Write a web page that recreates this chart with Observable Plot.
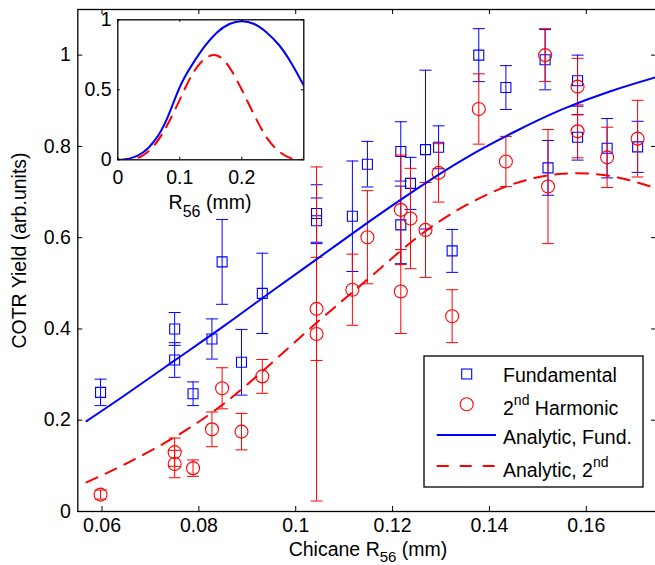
<!DOCTYPE html>
<html><head><meta charset="utf-8">
<script src="https://cdn.jsdelivr.net/npm/d3@7"></script>
<script src="https://cdn.jsdelivr.net/npm/@observablehq/plot@0.6"></script>
<style>
html,body{margin:0;padding:0;overflow:hidden;background:#fff;}
#wrap{position:relative;width:660px;height:565px;}
#wrap svg{position:absolute;left:0;top:0;}
</style></head><body><div id="wrap"></div>
<script>
// ---- data ----
const r56 = [0.0597,0.0750,0.0750,0.0788,0.0827,0.0848,0.0888,0.0931,0.1043,0.1043,0.1117,0.1148,0.1217,0.1217,0.1237,0.1268,0.1295,0.1323,0.1378,0.1434,0.1515,0.1521,0.1582,0.1582,0.1643,0.1706];
const fundY = [0.261,0.400,0.332,0.258,0.378,0.547,0.327,0.478,0.653,0.637,0.647,0.761,0.789,0.628,0.719,0.793,0.798,0.571,1.000,0.929,0.990,0.753,0.944,0.820,0.796,0.799];
const fundErr = [0.029,0.036,0.038,0.026,0.044,0.093,0.072,0.088,0.063,0.050,0.121,0.050,0.065,0.085,0.057,0.174,0.047,0.047,0.058,0.048,0.066,0.060,0.056,0.050,0.065,0.056];
const harmY = [0.037,0.130,0.104,0.095,0.180,0.270,0.175,0.296,0.444,0.389,0.486,0.601,0.661,0.482,0.642,0.617,0.742,0.428,0.882,0.767,1.000,0.712,0.931,0.833,0.776,0.817];
const harmErr = [0.010,0.031,0.030,0.018,0.038,0.045,0.040,0.037,0.113,0.366,0.078,0.102,0.120,0.092,0.110,0.104,0.064,0.058,0.077,0.055,0.058,0.125,0.062,0.058,0.066,0.084];

const fitX = [0.0568,0.065,0.075,0.085,0.095,0.105,0.115,0.125,0.135,0.145,0.155,0.165,0.1745];
const fitFund = [0.198,0.257,0.331,0.405,0.482,0.558,0.634,0.707,0.774,0.831,0.881,0.921,0.952];
const fitHarm = [0.064,0.105,0.163,0.235,0.325,0.420,0.510,0.600,0.670,0.718,0.740,0.735,0.708];

const insetX = [0,0.02,0.04,0.06,0.08,0.10,0.12,0.14,0.16,0.18,0.20,0.22,0.24,0.26,0.28,0.30];
const insetFund = [0,0.01,0.05,0.14,0.30,0.52,0.68,0.81,0.91,0.97,0.99,0.97,0.91,0.82,0.69,0.53];
const insetHarm = [0,0.0,0.03,0.11,0.25,0.43,0.61,0.72,0.745,0.66,0.50,0.32,0.16,0.06,0.01,0];

const xTicks = [0.06,0.08,0.1,0.12,0.14,0.16];
const yTicks = [0,0.2,0.4,0.6,0.8,1];
const insetXTicks = [0,0.1,0.2];
const insetYTicks = [0,0.5,1];

// ---- styling ----
const BLUE = "#0000ff", RED = "#ff0000";
const FONT = "'Liberation Sans', Arial, Helvetica, sans-serif";
const FS = 19.5;

const pts = r56.map((x,i)=>({x, fy: fundY[i], fe: fundErr[i], hy: harmY[i], he: harmErr[i]}));
const fit = fitX.map((x,i)=>({x, f: fitFund[i], h: fitHarm[i]}));
const ins = insetX.map((x,i)=>({x, f: insetFund[i], h: insetHarm[i]}));

const capSymbol = {draw(ctx, size){ const w = Math.sqrt(size/Math.PI); ctx.moveTo(-w,0); ctx.lineTo(w,0); }};

const W = 660, H = 565, mL = 77.3, mR = 4, mT = 9, mB = 54;
const plotW = W - mL - mR, plotH = H - mT - mB;
const TL = 5;

const main = Plot.plot({
  width: W, height: H, marginLeft: mL, marginRight: mR, marginTop: mT, marginBottom: mB,
  x: {domain: [0.055, 0.1745]},
  y: {domain: [0, 1.1]},
  style: {fontFamily: FONT, fontSize: FS + "px", background: "transparent", overflow: "visible", color: "black"},
  marks: [
    // fundamental
    Plot.ruleX(pts, {x: "x", y1: d=>d.fy-d.fe, y2: d=>d.fy+d.fe, stroke: BLUE, strokeWidth: 1}),
    Plot.dot(pts, {x: "x", y: d=>d.fy+d.fe, symbol: capSymbol, r: 6, stroke: BLUE, fill: "none", strokeWidth: 1}),
    Plot.dot(pts, {x: "x", y: d=>d.fy-d.fe, symbol: capSymbol, r: 6, stroke: BLUE, fill: "none", strokeWidth: 1}),
    Plot.dot(pts, {x: "x", y: "fy", symbol: "square", r: 5.64, stroke: BLUE, fill: "none", strokeWidth: 1.1}),
    // harmonic
    Plot.ruleX(pts, {x: "x", y1: d=>d.hy-d.he, y2: d=>d.hy+d.he, stroke: RED, strokeWidth: 1}),
    Plot.dot(pts, {x: "x", y: d=>d.hy+d.he, symbol: capSymbol, r: 6, stroke: RED, fill: "none", strokeWidth: 1}),
    Plot.dot(pts, {x: "x", y: d=>d.hy-d.he, symbol: capSymbol, r: 6, stroke: RED, fill: "none", strokeWidth: 1}),
    Plot.dot(pts, {x: "x", y: "hy", symbol: "circle", r: 6.5, stroke: RED, fill: "none", strokeWidth: 1.1}),
    // analytic
    Plot.line(fit, {x: "x", y: "f", stroke: BLUE, strokeWidth: 2, curve: "natural", clip: true}),
    Plot.line(fit, {x: "x", y: "h", stroke: RED, strokeWidth: 2, curve: "natural", strokeDasharray: "12,9", clip: true}),
    // inward ticks
    Plot.ruleX(xTicks, {x: d=>d, insetTop: plotH - TL, stroke: "black", strokeWidth: 1}),
    Plot.ruleX(xTicks, {x: d=>d, insetBottom: plotH - TL, stroke: "black", strokeWidth: 1}),
    Plot.ruleY(yTicks, {y: d=>d, insetRight: plotW - TL, stroke: "black", strokeWidth: 1}),
    Plot.ruleY(yTicks, {y: d=>d, insetLeft: plotW - TL, stroke: "black", strokeWidth: 1}),
    Plot.axisX({ticks: xTicks, tickSize: 0, tickPadding: 7, tickFormat: d=>String(d), label: null}),
    Plot.axisY({ticks: yTicks, tickSize: 0, tickPadding: 7, tickFormat: d=>String(d), label: null}),
    Plot.frame({stroke: "black", strokeWidth: 1.3})
  ]
});

const IW = 240, IH = 225, iL = 37.3, iR = 16.7, iT = 19.3, iB = 65.7;
const ipW = IW - iL - iR, ipH = IH - iT - iB, ITL = 2.5;
const inset = Plot.plot({
  width: IW, height: IH, marginLeft: iL, marginRight: iR, marginTop: iT, marginBottom: iB,
  x: {domain: [0, 0.3]},
  y: {domain: [0, 1]},
  style: {fontFamily: FONT, fontSize: FS + "px", background: "transparent", overflow: "visible", color: "black"},
  marks: [
    Plot.frame({fill: "white", stroke: null}),
    Plot.line(ins, {x: "x", y: "f", stroke: BLUE, strokeWidth: 2, curve: "natural", clip: true}),
    Plot.line(ins, {x: "x", y: "h", stroke: RED, strokeWidth: 2, curve: "natural", strokeDasharray: "12,9", clip: true}),
    Plot.ruleX(insetXTicks, {x: d=>d, insetTop: ipH - ITL, stroke: "black", strokeWidth: 1}),
    Plot.ruleX(insetXTicks, {x: d=>d, insetBottom: ipH - ITL, stroke: "black", strokeWidth: 1}),
    Plot.ruleY(insetYTicks, {y: d=>d, insetRight: ipW - ITL, stroke: "black", strokeWidth: 1}),
    Plot.ruleY(insetYTicks, {y: d=>d, insetLeft: ipW - ITL, stroke: "black", strokeWidth: 1}),
    Plot.axisX({ticks: insetXTicks, tickSize: 0, tickPadding: 10, tickFormat: d=>String(d), label: null}),
    Plot.axisY({ticks: insetYTicks, tickSize: 0, tickPadding: 6.3, tickFormat: d=>String(d), label: null}),
    Plot.frame({stroke: "black", strokeWidth: 1.3})
  ]
});

const wrap = document.getElementById("wrap");
wrap.appendChild(main);
inset.style.left = "80px"; inset.style.top = "0px";
wrap.appendChild(inset);

// ---- labels & legend ----
const s = d3.select(main);
const txt = (sel) => sel.attr("font-family", FONT).attr("font-size", FS).attr("fill", "black");

const xl = s.append("text").call(txt).attr("x", 368).attr("y", 555.5).attr("text-anchor", "middle");
xl.append("tspan").text("Chicane R");
xl.append("tspan").attr("dy", 6).attr("font-size", 15).text("56");
xl.append("tspan").attr("dy", -6).text(" (mm)");

s.append("text").call(txt).attr("text-anchor", "middle")
  .attr("transform", "translate(25.5,250.5) rotate(-90)").text("COTR Yield (arb.units)");

const si = d3.select(inset);
const il = si.append("text").call(txt).attr("x", 130).attr("y", 209).attr("text-anchor", "middle");
il.append("tspan").text("R");
il.append("tspan").attr("dy", 8).attr("font-size", 16).text("56");
il.append("tspan").attr("dy", -8).text(" (mm)");

const lg = s.append("g").attr("text-anchor", "start");
lg.append("rect").attr("x", 424).attr("y", 356).attr("width", 219).attr("height", 131)
  .attr("fill", "white").attr("stroke", "black").attr("stroke-width", 1.3);
lg.append("rect").attr("x", 466.7-5).attr("y", 374-5).attr("width", 10).attr("height", 10)
  .attr("fill", "none").attr("stroke", BLUE).attr("stroke-width", 1.1);
lg.append("circle").attr("cx", 466.7).attr("cy", 404.3).attr("r", 6.5)
  .attr("fill", "none").attr("stroke", RED).attr("stroke-width", 1.1);
lg.append("line").attr("x1", 436.7).attr("x2", 496).attr("y1", 435).attr("y2", 435)
  .attr("stroke", BLUE).attr("stroke-width", 2);
lg.append("line").attr("x1", 436.7).attr("x2", 496).attr("y1", 466).attr("y2", 466)
  .attr("stroke", RED).attr("stroke-width", 2).attr("stroke-dasharray", "12,11");
lg.append("text").call(txt).attr("text-anchor", "start").attr("x", 503).attr("y", 381.5).text("Fundamental");
const t2 = lg.append("text").call(txt).attr("text-anchor", "start").attr("x", 503).attr("y", 415);
t2.append("tspan").text("2");
t2.append("tspan").attr("dy", -10).attr("font-size", 14).text("nd");
t2.append("tspan").attr("dy", 10).text(" Harmonic");
lg.append("text").call(txt).attr("text-anchor", "start").attr("x", 503).attr("y", 443.5).text("Analytic, Fund.");
const t4 = lg.append("text").call(txt).attr("text-anchor", "start").attr("x", 503).attr("y", 476.5);
t4.append("tspan").text("Analytic, 2");
t4.append("tspan").attr("dy", -10).attr("font-size", 14).text("nd");
</script></body></html>
